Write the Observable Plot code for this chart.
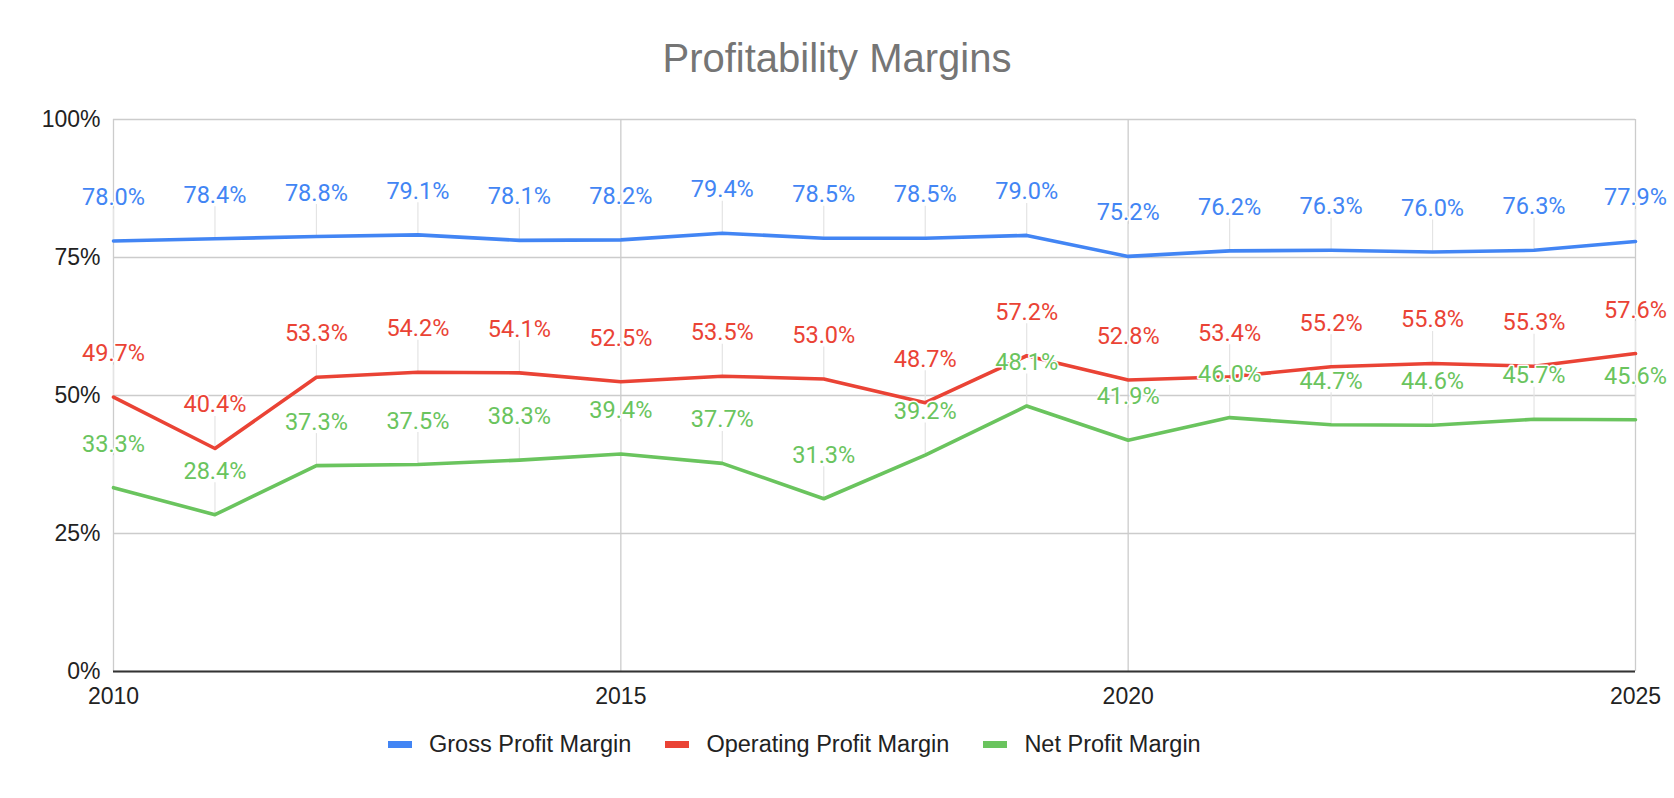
<!DOCTYPE html>
<html><head><meta charset="utf-8">
<script src="https://cdn.jsdelivr.net/npm/d3@7"></script>
<script src="https://cdn.jsdelivr.net/npm/@observablehq/plot@0.6"></script>
<style>
html,body{margin:0;padding:0;background:#fff;}
#root{position:relative;width:1674px;height:798px;overflow:hidden;font-family:"Liberation Sans",Arial,sans-serif;}
#title{position:absolute;left:0;top:38px;width:1674px;text-align:center;font-size:40px;line-height:40px;color:#757575;}
#chart{position:absolute;left:0;top:100px;}
#legend{position:absolute;left:388px;top:731px;display:flex;align-items:center;font-size:23.5px;line-height:27px;color:#222;white-space:nowrap;}
.item{display:flex;align-items:center;margin-right:34px;}
.sw{width:24px;height:7px;margin-right:17px;}
</style></head><body>
<div id="root"><div id="title">Profitability Margins</div><div id="chart"></div><div id="legend"></div></div>
<script>
const years = [2010,2011,2012,2013,2014,2015,2016,2017,2018,2019,2020,2021,2022,2023,2024,2025];
const gross = [78.0,78.4,78.8,79.1,78.1,78.2,79.4,78.5,78.5,79.0,75.2,76.2,76.3,76.0,76.3,77.9];
const operating = [49.7,40.4,53.3,54.2,54.1,52.5,53.5,53.0,48.7,57.2,52.8,53.4,55.2,55.8,55.3,57.6];
const net = [33.3,28.4,37.3,37.5,38.3,39.4,37.7,31.3,39.2,48.1,41.9,46.0,44.7,44.6,45.7,45.6];
const seriesNames = ["Gross Profit Margin","Operating Profit Margin","Net Profit Margin"];
const seriesColors = ["#4285F4","#EA4335","#6AC45E"];
const yTicks = [0,25,50,75,100];
const xTicks = [2010,2015,2020,2025];

const seriesValues = [gross, operating, net];
const data = [];
seriesNames.forEach((s, si) => {
  years.forEach((yr, i) => data.push({series: s, year: yr, value: seriesValues[si][i]}));
});

const W = 1674, H = 620, mT = 19, mB = 49, mL = 113, mR = 39;
const pxPerUnit = (H - mT - mB) / 100;
const leaderLen = 32 / pxPerUnit;

const chart = Plot.plot({
  width: W, height: H,
  marginTop: mT, marginBottom: mB, marginLeft: mL, marginRight: mR,
  style: {fontFamily: "Liberation Sans, Arial, sans-serif", fontSize: "23px", color: "#222", background: "#fff", overflow: "visible"},
  x: {domain: [2010, 2025], label: null},
  y: {domain: [0, 100], label: null},
  color: {domain: seriesNames, range: seriesColors},
  marks: [
    Plot.gridY(yTicks, {stroke: "#cccccc", strokeOpacity: 1, strokeWidth: 1.3}),
    Plot.gridX(xTicks, {stroke: "#cccccc", strokeOpacity: 1, strokeWidth: 1.3}),
    Plot.axisY(yTicks, {tickSize: 0, tickPadding: 13, tickFormat: d => d + "%", fontSize: 23, fill: "#222", label: null}),
    Plot.axisX(xTicks, {tickSize: 0, tickPadding: 16, tickFormat: d => String(d), fontSize: 23, fill: "#222", label: null}),
    Plot.ruleX(data, {x: "year", y1: "value", y2: d => d.value + leaderLen, stroke: "#e4e4e4", strokeWidth: 1.2}),
    Plot.ruleY([0], {stroke: "#333", strokeWidth: 2}),
    Plot.line(data, {x: "year", y: "value", z: "series", stroke: "series", strokeWidth: 3.6}),
    Plot.text(data, {x: "year", y: "value", text: d => d.value.toFixed(1) + "%", fill: "series", dy: -36, lineAnchor: "bottom", fontFamily: "Roboto", fontSize: 23.5, stroke: "white", strokeWidth: 3})
  ]
});
document.getElementById("chart").appendChild(chart);

const legend = document.getElementById("legend");
seriesNames.forEach((s, i) => {
  const item = document.createElement("div");
  item.className = "item";
  const sw = document.createElement("div");
  sw.className = "sw";
  sw.style.background = seriesColors[i];
  const t = document.createElement("span");
  t.textContent = s;
  item.appendChild(sw); item.appendChild(t);
  legend.appendChild(item);
});
</script>
</body></html>
